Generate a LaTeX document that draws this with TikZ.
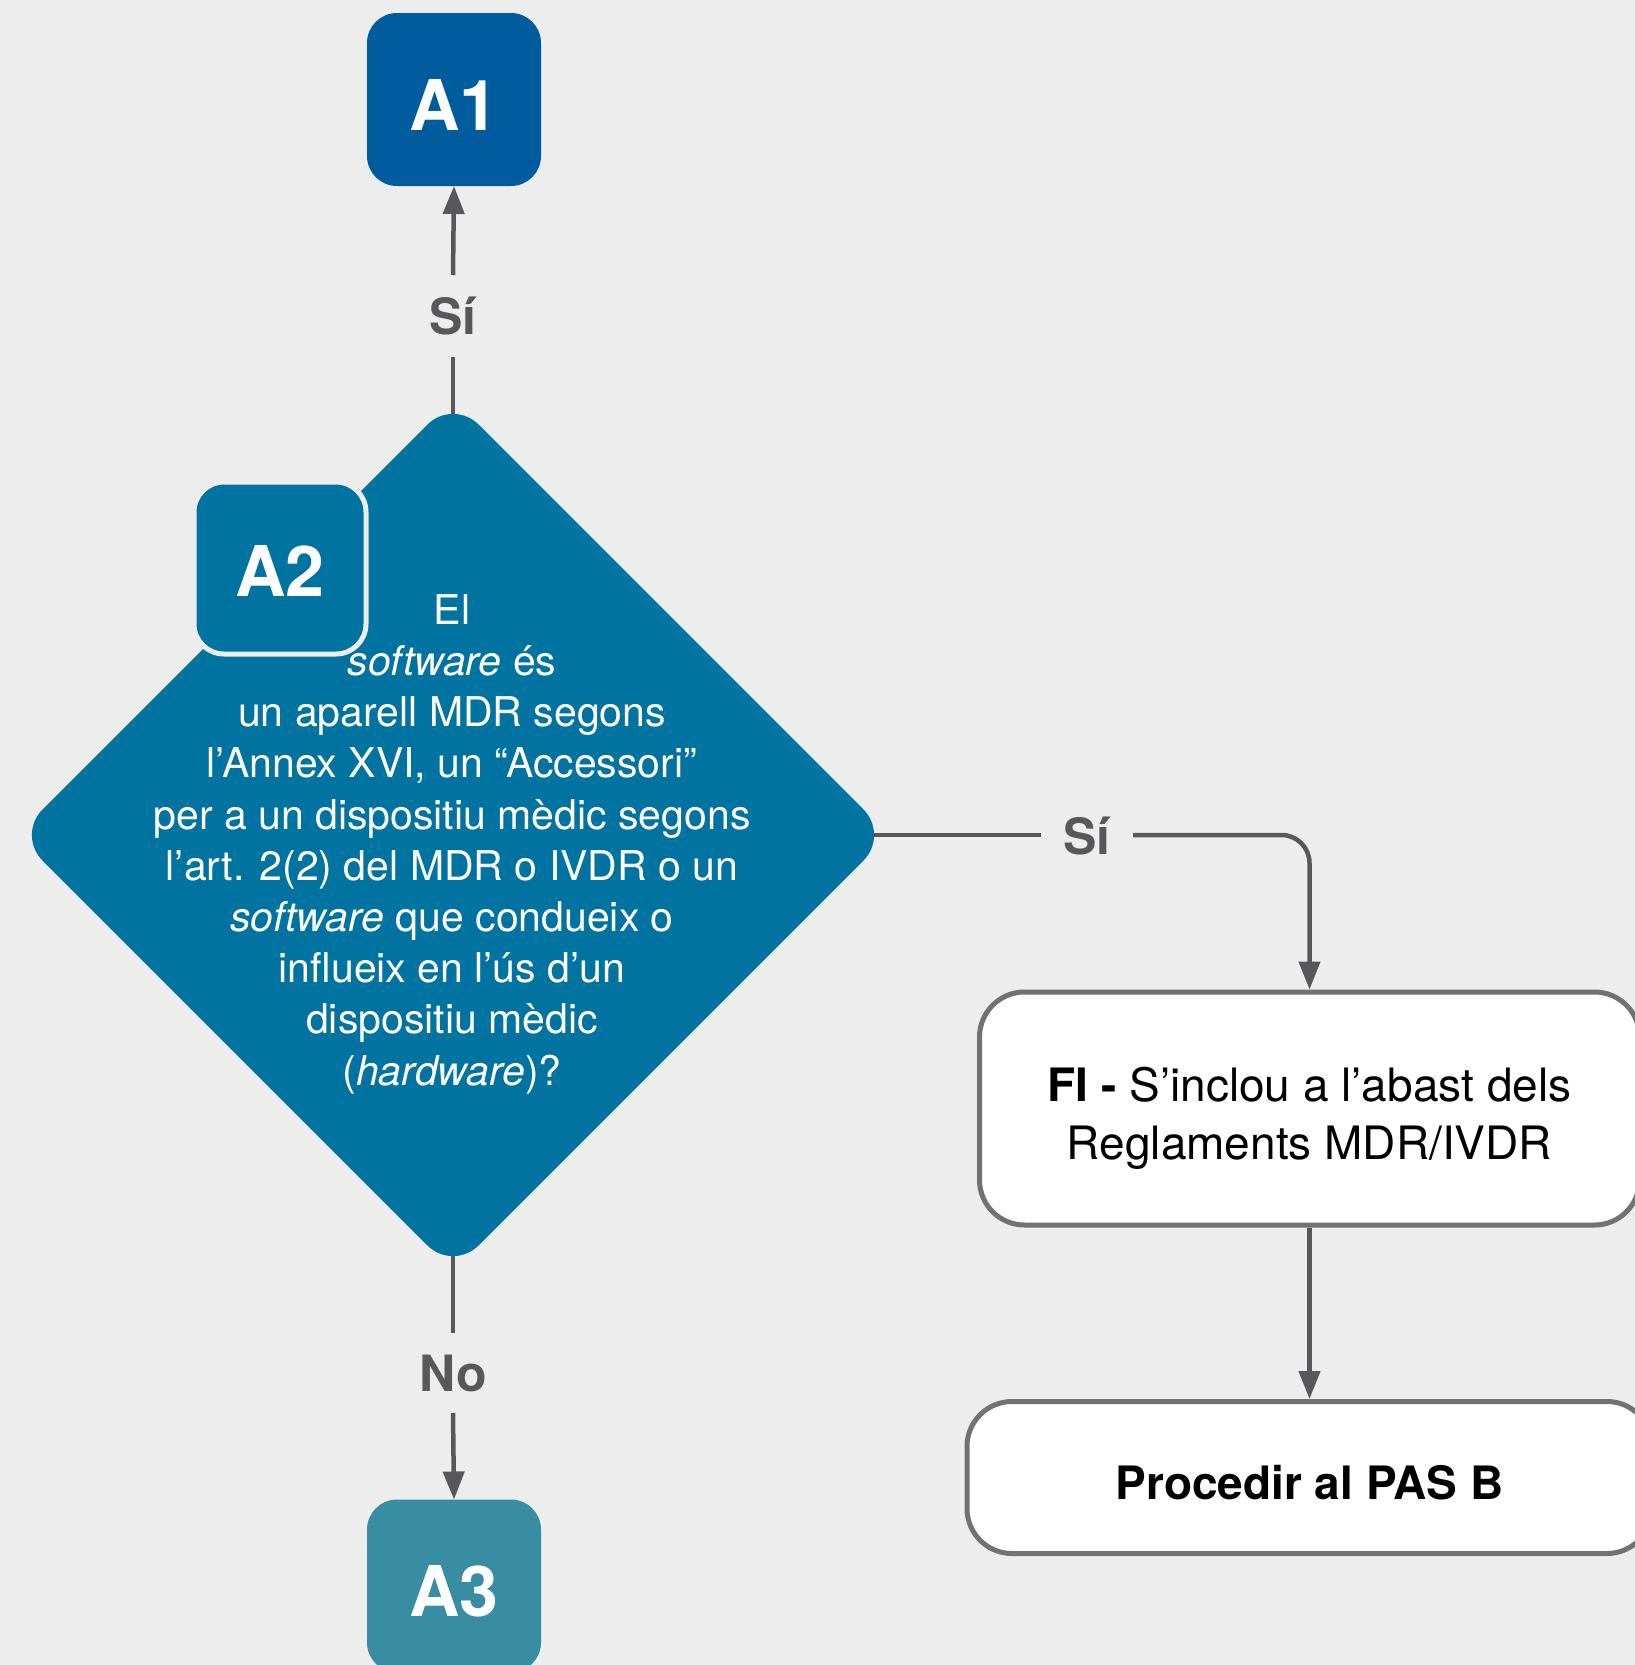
\documentclass[tikz,border=0pt]{standalone}
\usepackage{fontspec}
\setmainfont{TeX Gyre Heros}
\usetikzlibrary{shapes.geometric,arrows.meta}
\definecolor{bgc}{HTML}{EDEDED}
\definecolor{aonec}{HTML}{005C9C}
\definecolor{qc}{HTML}{0073A0}
\definecolor{athreec}{HTML}{388DA2}
\definecolor{linec}{HTML}{58585A}
\definecolor{boxc}{HTML}{727272}
\pgfdeclarelayer{back}
\pgfsetlayers{back,main}
\newcommand{\lowertext}[2]{\raisebox{-#1}[\height][\depth]{#2}}
\begin{document}
\begin{tikzpicture}[x=1pt,y=-1pt,
  abox/.style={rectangle, rounded corners=30pt, minimum width=174pt, minimum height=173pt,
    inner sep=0pt, outer sep=0pt, text=white, font=\fontsize{70}{70}\selectfont\bfseries},
  outbox/.style={rectangle, draw=boxc, line width=5pt, fill=white, rounded corners=45pt,
    align=center, inner sep=0pt, text=black},
  lbl/.style={inner sep=0pt, outer sep=0pt, text=linec, font=\fontsize{50}{50}\selectfont\bfseries},
  conn/.style={draw=linec, line width=4.5pt},
  arr/.style={-{Triangle[width=21pt,length=28pt]}}
]
\begin{pgfonlayer}{back}
\fill[bgc] (0,0) rectangle (1635,1665);
\end{pgfonlayer}
\useasboundingbox (0,0) rectangle (1635,1665);

% decision diamond
\node[diamond, aspect=1, minimum width=872pt, minimum height=872pt, inner sep=0pt, outer sep=0pt,
  fill=qc, rounded corners=36pt] (q) at (453,835) {};
\node[align=center, text=white, inner sep=0pt, font=\fontsize{41}{51.2}\selectfont] (qt) at (452,844)
  {El\\ \textit{software} és\\ un aparell MDR segons\\ l’Annex XVI, un “Accessori”\\
   per a un dispositiu mèdic segons\\ l’art. 2(2) del MDR o IVDR o un\\
   \textit{software} que condueix o\\ influeix en l’ús d’un\\ dispositiu mèdic\\ (\textit{hardware})?};

% step boxes
\node[abox, fill=aonec] (a1) at (454,99.5) {\lowertext{5pt}{A1}};
\node[abox, fill=qc, draw=bgc, line width=5pt, minimum width=172pt, minimum height=172pt] (a2) at (280,568) {\lowertext{3pt}{A2}};
\node[abox, fill=athreec] (a3) at (454,1586) {\lowertext{5pt}{A3}};

% outcome boxes
\node[outbox, minimum width=660pt, minimum height=233pt, font=\fontsize{46}{57.5}\selectfont] (fi) at (1309.5,1108.5)
  {\lowertext{10pt}{\parbox{640pt}{\centering\textbf{FI -} S’inclou a l’abast dels\\ Reglaments MDR/IVDR}}};
\node[outbox, minimum width=685pt, minimum height=152pt, font=\fontsize{46}{57.5}\selectfont\bfseries] (pas) at (1309.5,1477.5)
  {\lowertext{5pt}{Procedir al PAS B}};

% labels
\node[lbl, minimum height=82pt] (s1) at (453,316) {Sí};
\node[lbl, minimum width=92pt] (s2) at (1087,836) {Sí};
\node[lbl, minimum height=80pt] (no) at (453,1373) {No};

% connectors
\begin{pgfonlayer}{back}
\draw[conn] (q.center) -- (s1.south);
\draw[conn, arr] (s1.north) -- (a1.south);
\draw[conn] (q.center) -- (q.center -| s2.west);
\draw[conn, arr, rounded corners=28pt] (q.center -| s2.east) -| (fi.north);
\draw[conn] (q.center) -- (no.north);
\draw[conn, arr] (no.south) -- (a3.north);
\draw[conn, arr] (fi.south) -- (pas.north);
\end{pgfonlayer}
\end{tikzpicture}
\end{document}
